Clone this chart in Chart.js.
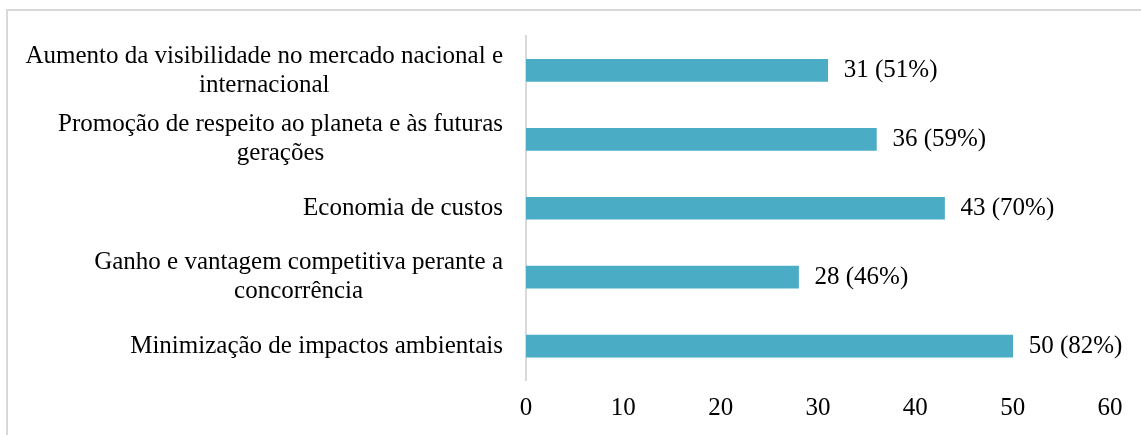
<!DOCTYPE html>
<html>
<head>
<meta charset="utf-8">
<script src="https://cdn.jsdelivr.net/npm/chart.js@4/dist/chart.umd.min.js"></script>
<style>
  html, body { margin: 0; padding: 0; background: #fff; }
  #wrap { position: relative; width: 1141px; height: 435px; overflow: hidden; }
  #frame { position: absolute; left: 6px; top: 9px; width: 1300px; height: 600px;
           border-top: 2px solid #d9d9d9; border-left: 2px solid #d9d9d9; }
  canvas { position: absolute; left: 0; top: 0; }
</style>
</head>
<body>
<div id="wrap">
  <div id="frame"></div>
  <canvas id="c" width="1141" height="435"></canvas>
</div>
<script>
const categories = [
  ["Aumento da visibilidade no mercado nacional e", "internacional"],
  ["Promoção de respeito ao planeta e às futuras", "gerações"],
  ["Economia de custos"],
  ["Ganho e vantagem competitiva perante a", "concorrência"],
  ["Minimização de impactos ambientais"]
];
const counts = [31, 36, 43, 28, 50];
const percents = [51, 59, 70, 46, 82];
const xTicks = [0, 10, 20, 30, 40, 50, 60];

const FONT = "'Liberation Serif', 'Times New Roman', serif";
const FS = 25;

const labelPlugin = {
  id: 'labels',
  afterDatasetsDraw(chart) {
    const ctx = chart.ctx;
    const ys = chart.scales.y;
    const meta = chart.getDatasetMeta(0);
    ctx.save();
    ctx.font = FS + 'px ' + FONT;
    ctx.fillStyle = '#000';
    ctx.textBaseline = 'middle';
    const rightX = 503;
    const lh = 29;
    categories.forEach((lines, i) => {
      const yc = ys.getPixelForValue(i);
      const w = Math.max(...lines.map(l => ctx.measureText(l).width));
      const cx = rightX - w / 2;
      ctx.textAlign = 'center';
      lines.forEach((l, j) => {
        ctx.fillText(l, cx, yc + (j - (lines.length - 1) / 2) * lh);
      });
    });
    ctx.textAlign = 'left';
    meta.data.forEach((bar, i) => {
      ctx.fillText(counts[i] + ' (' + percents[i] + '%)', bar.x + 16, bar.y);
    });
    ctx.restore();
  }
};

new Chart(document.getElementById('c'), {
  type: 'bar',
  data: {
    labels: categories,
    datasets: [{
      data: counts,
      backgroundColor: '#4BACC6',
      borderWidth: 0,
      barThickness: 22
    }]
  },
  options: {
    indexAxis: 'y',
    responsive: false,
    animation: false,
    devicePixelRatio: 1,
    layout: { padding: { top: 36, right: 31, bottom: 0, left: 0 } },
    plugins: { legend: { display: false }, tooltip: { enabled: false } },
    scales: {
      y: {
        ticks: { display: false },
        grid: { display: false, drawTicks: false },
        border: { display: true, color: '#d9d9d9', width: 2 },
        afterFit(s) { s.width = 526; }
      },
      x: {
        min: xTicks[0],
        max: xTicks[xTicks.length - 1],
        afterBuildTicks(s) { s.ticks = xTicks.map(v => ({ value: v })); },
        ticks: {
          color: '#000',
          font: { family: FONT, size: FS },
          padding: 13,
          maxRotation: 0
        },
        grid: { display: false, drawTicks: false },
        border: { display: false },
        afterFit(s) { s.height = 435 - 380.5; }
      }
    }
  },
  plugins: [labelPlugin]
});
</script>
</body>
</html>
